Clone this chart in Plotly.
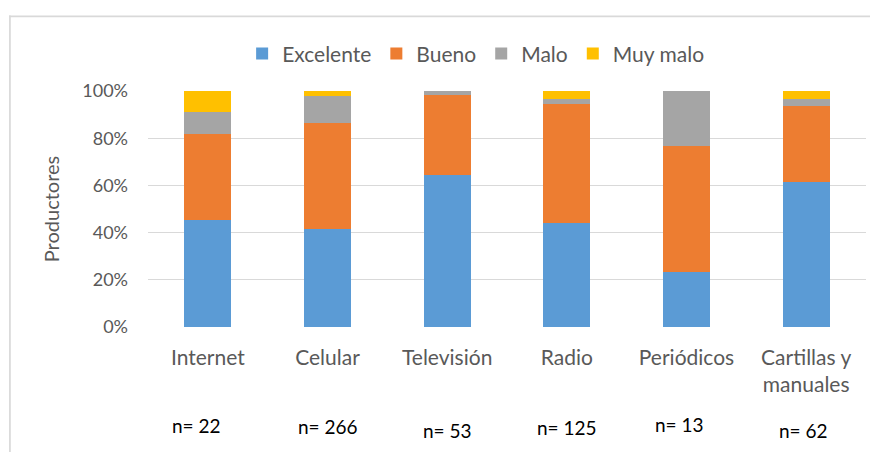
import plotly.graph_objects as go

categories = ["Internet", "Celular", "Televisión", "Radio", "Periódicos", "Cartillas y<br>manuales"]
excelente = [45.5, 41.4, 64.2, 44.0, 23.1, 61.3]
bueno = [36.4, 45.1, 33.9, 50.4, 53.8, 32.3]
malo = [9.1, 11.3, 1.9, 2.4, 23.1, 3.2]
muy_malo = [9.0, 2.2, 0.0, 3.2, 0.0, 3.2]
n_labels = ["n= 22", "n= 266", "n= 53", "n= 125", "n= 13", "n= 62"]
n_xshift = [-11, 0, 0, 0, -7, -3]
n_yshift = [-98, -99, -103, -100, -97, -103]
y_ticks = [0, 20, 40, 60, 80, 100]
y_ticktext = ["0%", "20%", "40%", "60%", "80%", "100%"]

FONT = "Lato"
TXT = "#595959"
FRAME = "#D9D9D9"

series = [
    ("Excelente", excelente, "#5B9BD5"),
    ("Bueno", bueno, "#ED7D31"),
    ("Malo", malo, "#A5A5A5"),
    ("Muy malo", muy_malo, "#FFC000"),
]

fig = go.Figure()
for name, vals, col in series:
    fig.add_trace(go.Bar(x=categories, y=vals, name=name,
                         marker=dict(color=col, line=dict(width=0))))

annotations = []
for i, lab in enumerate(n_labels):
    annotations.append(dict(x=categories[i], xref="x", y=0, yref="paper",
                            text=lab, showarrow=False, xshift=n_xshift[i],
                            yshift=n_yshift[i], yanchor="middle",
                            font=dict(family=FONT, size=19, color="#000000")))

# page body has an 8px margin, so the figure is 8px smaller and offset
fig.update_layout(
    width=870, height=444,
    margin=dict(l=140, r=12, t=83, b=125),
    paper_bgcolor="white", plot_bgcolor="white",
    barmode="stack", bargap=0.605,
    font=dict(family=FONT, color=TXT, size=19),
    legend=dict(orientation="h", x=0.457, xanchor="center", y=1.157, yanchor="middle",
                font=dict(family=FONT, size=21, color=TXT), traceorder="normal",
                itemwidth=30, bgcolor="rgba(0,0,0,0)"),
    xaxis=dict(tickfont=dict(family=FONT, size=21, color=TXT), showgrid=False,
               showline=False, ticks="", zeroline=False, ticklabelstandoff=16,
               automargin=False),
    yaxis=dict(range=[0, 100], tickvals=y_ticks, ticktext=y_ticktext,
               tickfont=dict(family=FONT, size=18, color=TXT),
               showgrid=True, gridcolor="#D9D9D9", gridwidth=1.3, zeroline=False,
               showline=False, ticks="", ticklabelstandoff=19, automargin=False,
               title=dict(text="Productores", font=dict(family=FONT, size=20, color=TXT),
                          standoff=17)),
    annotations=annotations,
    shapes=[
        dict(type="rect", xref="paper", yref="paper",
             x0=-0.1935, x1=1.2, y0=1.313, y1=1.3195,
             fillcolor=FRAME, line=dict(width=0), layer="above"),
        dict(type="rect", xref="paper", yref="paper",
             x0=-0.1935, x1=-0.1911, y0=-1.2, y1=1.3195,
             fillcolor=FRAME, line=dict(width=0), layer="above"),
    ],
)

fig.write_html("out.html")
